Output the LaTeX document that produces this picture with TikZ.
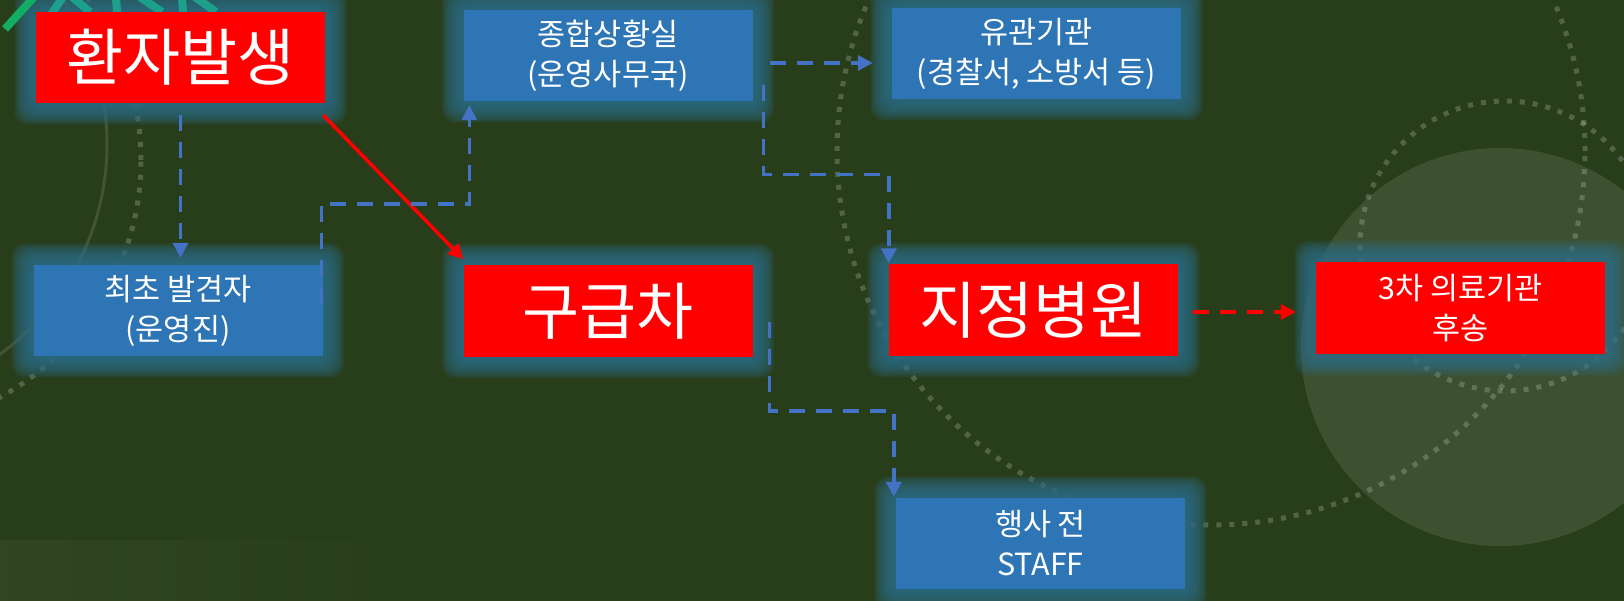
\documentclass[tikz,border=0pt]{standalone}
\usepackage{fontspec}
\setmainfont{Noto Sans CJK KR}
\usetikzlibrary{arrows.meta}
\pgfdeclarelayer{deco}
\pgfdeclarelayer{glowlayer}
\pgfsetlayers{deco,glowlayer,main}

\definecolor{bgc}{RGB}{40,61,25}
\definecolor{boxblue}{RGB}{46,117,182}
\definecolor{boxred}{RGB}{255,0,0}
\definecolor{arrowblue}{RGB}{68,114,196}
\definecolor{glowc}{RGB}{48,110,135}
\definecolor{logogreen}{RGB}{18,172,98}
\definecolor{logoteal}{RGB}{28,160,140}

\tikzset{
 boxbase/.style={minimum width=289pt,minimum height=91pt,inner sep=0pt,text=white,align=center},
 bluebox/.style={boxbase,fill=boxblue,font=\fontsize{30.5}{40}\selectfont},
 redbig/.style={boxbase,fill=boxred,font=\fontsize{62}{72}\selectfont},
 redsmall/.style={boxbase,fill=boxred,font=\fontsize{30.5}{40}\selectfont},
 bluedash/.style={draw=arrowblue,line width=3.5pt,dash pattern=on 16pt off 11pt,-{Triangle[length=15pt,width=15pt]}},
 reddash/.style={draw=boxred,line width=3.5pt,dash pattern=on 16pt off 11pt,-{Triangle[length=15pt,width=15pt]}},
 redsolid/.style={draw=boxred,line width=3.5pt,-{Triangle[length=15pt,width=15pt]}},
 decodots/.style={draw=white,draw opacity=0.2,line width=5pt,dash pattern=on 5pt off 8pt},
 logostroke/.style={line width=8pt},
}

\newcommand{\glowfor}[1]{%
 \foreach \g in {3,4,...,22}{%
  \fill[glowc,opacity=0.1,rounded corners=14pt] ([shift={(-\g pt,\g pt)}]#1.north west) rectangle ([shift={(\g pt,-\g pt)}]#1.south east);}}

\begin{document}
\begin{tikzpicture}[x=1pt,y=-1pt]
\useasboundingbox (0,0) rectangle (1624,601);

\begin{pgfonlayer}{deco}
 \fill[bgc] (0,0) rectangle (1624,601);
 \shade[left color=white!4!bgc, right color=bgc] (0,540) rectangle (430,601);
 \fill[white,fill opacity=0.1] (1500,347) circle[radius=199pt];
 \draw[decodots] (1211,151) circle[radius=374pt];
 \draw[decodots] (1505,246) circle[radius=145pt];
 \draw[decodots] (-129,160) circle[radius=270pt];
 \draw[white,draw opacity=0.12,line width=3pt] (-153,144) circle[radius=260pt];
\end{pgfonlayer}

% partial logo at the top-left corner
\draw[logostroke,logogreen] (5,29) -- (34,-3);
\draw[logostroke,logoteal] (50,16) -- (63,-3);
\draw[logostroke,logoteal] (72,-3) -- (90,12);
\draw[logostroke,logoteal] (116,-3) -- (117,12);
\draw[logostroke,logoteal] (140,-3) -- (162,12);
\draw[logostroke,logoteal] (182,-3) -- (183,12);
\draw[logostroke,logoteal] (195,-3) -- (216,12);

\node[redbig]   (A) at (180.5,57.5) {환자발생};
\node[bluebox]  (B) at (178,310.5)  {최초 발견자\\(운영진)};
\node[bluebox]  (C) at (608,55.5)   {종합상황실\\(운영사무국)};
\node[redbig]   (D) at (608,311)    {구급차};
\node[bluebox]  (E) at (1036.5,53.5) {유관기관\\(경찰서, 소방서 등)};
\node[redbig]   (F) at (1033.5,310) {지정병원};
\node[redsmall] (G) at (1460.5,308) {3차 의료기관\\후송};
\node[bluebox]  (H) at (1040.5,543.5) {행사 전\\STAFF};

\begin{pgfonlayer}{glowlayer}
 \glowfor{A}\glowfor{B}\glowfor{C}\glowfor{D}\glowfor{E}\glowfor{F}\glowfor{G}\glowfor{H}
\end{pgfonlayer}

% connectors
\draw[bluedash] ([yshift=-12pt]A.south) -- ([yshift=7pt]A.south |- B.north);
\draw[redsolid] ([shift={(-2pt,-12pt)}]A.south east) -- ([yshift=6pt]D.north west);
\draw[bluedash] ([shift={(-1pt,7pt)}]B.east) |- ([shift={(6pt,-103pt)}]C.south west) -- ([shift={(6pt,-4pt)}]C.south west);
\draw[bluedash] ([shift={(17pt,-7.5pt)}]C.east) -- ([shift={(-19pt,-9.5pt)}]E.west);
\draw[bluedash] ([shift={(11pt,16pt)}]C.south east) |- ([yshift=90pt]F.north west) -- ([yshift=1pt]F.north west);
\draw[bluedash] ([shift={(17pt,-11pt)}]D.east) |- ([shift={(-2pt,87pt)}]H.north west) -- ([shift={(-2pt,1pt)}]H.north west);
\draw[reddash] ([shift={(15pt,-2pt)}]F.east) -- ([shift={(-20pt,-4pt)}]G.west);
\end{tikzpicture}
\end{document}
